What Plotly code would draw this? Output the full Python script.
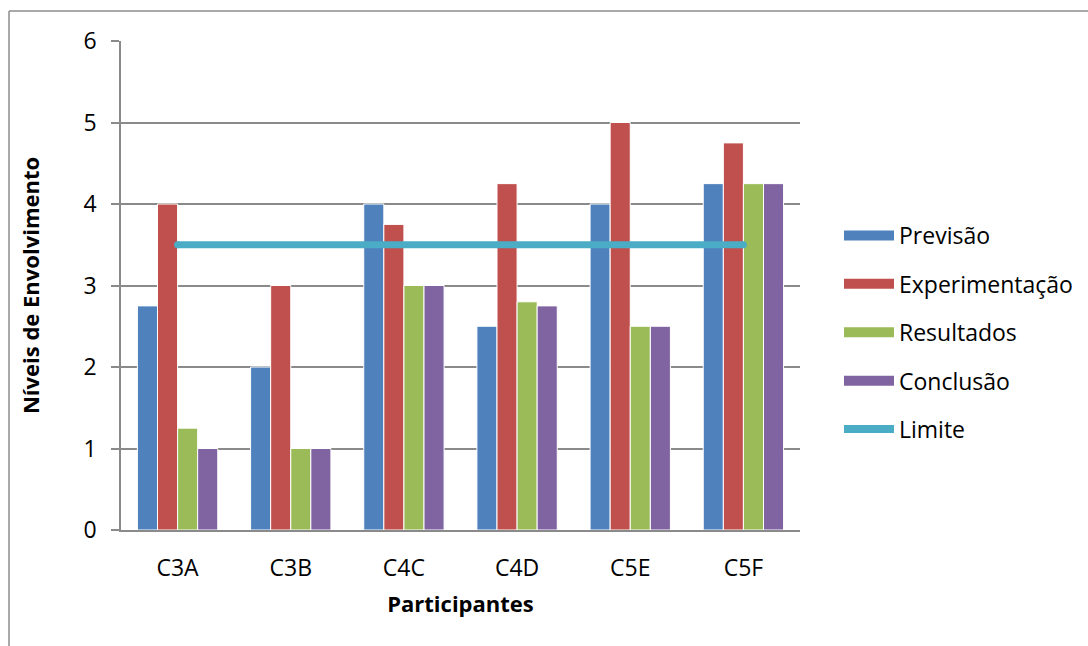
import plotly.graph_objects as go

# Participants (categories) and engagement levels per phase
participantes = ["C3A", "C3B", "C4C", "C4D", "C5E", "C5F"]
previsao = [2.75, 2.0, 4.0, 2.5, 4.0, 4.25]
experimentacao = [4.0, 3.0, 3.75, 4.25, 5.0, 4.75]
resultados = [1.25, 1.0, 3.0, 2.8, 2.5, 4.25]
conclusao = [1.0, 1.0, 3.0, 2.75, 2.5, 4.25]
limite = [3.5, 3.5, 3.5, 3.5, 3.5, 3.5]

y_ticks = [0, 1, 2, 3, 4, 5, 6]

series = [
    ("Previsão", previsao, "#4F81BD"),
    ("Experimentação", experimentacao, "#C0504D"),
    ("Resultados", resultados, "#9BBB59"),
    ("Conclusão", conclusao, "#8064A2"),
]
limite_color = "#4BACC6"
grid_color = "#8A8A8A"
FONT = "Open Sans"
FS = 23

fig = go.Figure()

for i, (name, vals, color) in enumerate(series):
    fig.add_trace(go.Bar(
        x=participantes, y=vals, name=name,
        marker=dict(color=color, line=dict(color="white", width=1)),
        showlegend=False,
    ))

# Threshold line across all participants
fig.add_trace(go.Scatter(
    x=participantes, y=limite, mode="lines", name="Limite",
    line=dict(color=limite_color, width=7), showlegend=False,
))
# Rounded ends of the threshold line
fig.add_trace(go.Scatter(
    x=[participantes[0], participantes[-1]], y=[limite[0], limite[-1]],
    mode="markers", marker=dict(color=limite_color, size=7),
    showlegend=False, hoverinfo="skip",
))

# Legend entries with wide swatches
for i, (name, vals, color) in enumerate(series):
    fig.add_trace(go.Scatter(
        x=[None], y=[None], mode="lines", name=name,
        line=dict(color=color, width=12), legendgroup=name,
    ))
fig.add_trace(go.Scatter(
    x=[None], y=[None], mode="lines", name="Limite",
    line=dict(color=limite_color, width=8), legendgroup="Limite",
))

L, R, T, B = 121, 288, 41, 116
W, H = 1088, 646
pw, ph = W - L - R, H - T - B

def px(xp):
    return (xp - L) / pw

def py(yp):
    return (H - B - yp) / ph

fig.update_layout(
    width=W, height=H,
    margin=dict(l=L, r=R, t=T, b=B, autoexpand=False),
    paper_bgcolor="white", plot_bgcolor="white",
    font=dict(family=FONT, size=FS, color="black"),
    barmode="group", bargap=0.29, bargroupgap=0.0,
    showlegend=True,
    legend=dict(
        x=px(839), y=py(214), xanchor="left", yanchor="top",
        font=dict(family=FONT, size=FS, color="black"),
        itemwidth=50, tracegroupgap=15.5, bgcolor="rgba(0,0,0,0)",
    ),
    xaxis=dict(
        showline=True, linecolor=grid_color, linewidth=1.5,
        ticks="", showgrid=False, ticklabelstandoff=17,
        tickfont=dict(family=FONT, size=FS),
        title=dict(text="<b>Participantes</b>", standoff=14,
                   font=dict(family=FONT, size=22)),
    ),
    yaxis=dict(
        range=[0, 6], tickvals=y_ticks, ticktext=[str(v) for v in y_ticks],
        showline=True, linecolor=grid_color, linewidth=1.5,
        ticks="outside", ticklen=8, tickcolor=grid_color, tickwidth=1.5,
        showgrid=True, gridcolor=grid_color, gridwidth=1.5,
        zeroline=False, ticklabelstandoff=10,
        tickfont=dict(family=FONT, size=FS),
        title=dict(text="<b>Níveis de Envolvimento</b>", standoff=38,
                   font=dict(family=FONT, size=22)),
    ),
    shapes=[
        dict(type="line", xref="paper", yref="paper",
             x0=px(9), x1=px(9), y0=py(11), y1=py(700),
             line=dict(color="#8C8C8C", width=1.5)),
        dict(type="line", xref="paper", yref="paper",
             x0=px(9), x1=px(1100), y0=py(11), y1=py(11),
             line=dict(color="#8C8C8C", width=1.5)),
    ],
)

fig.write_html("out.html")
